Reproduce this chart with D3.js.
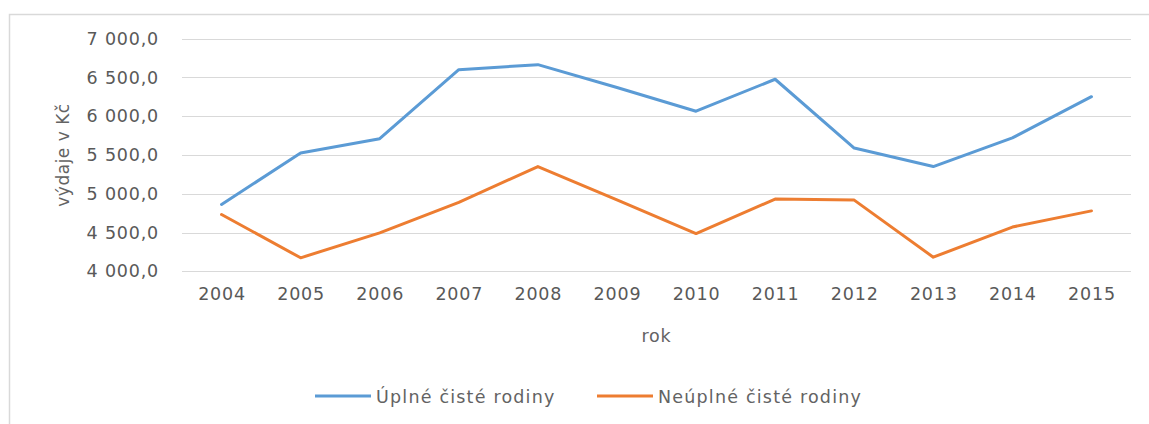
<!DOCTYPE html>
<html><head><meta charset="utf-8">
<script src="https://cdn.jsdelivr.net/npm/d3@7"></script>
<style>
body{margin:0;background:#fff;}
text{font-family:"DejaVu Sans",sans-serif;fill:#595959;}
</style></head>
<body><svg id="c" width="1149" height="424"></svg>
<script>
const years = ["2004","2005","2006","2007","2008","2009","2010","2011","2012","2013","2014","2015"];
const uplne = [4862,5525,5710,6600,6665,6370,6065,6477,5590,5351,5720,6252];
const neuplne = [4732,4174,4495,4890,5351,4922,4486,4931,4918,4182,4571,4779];
const seriesNames = ["Úplné čisté rodiny","Neúplné čisté rodiny"];
const yTicks = [4000,4500,5000,5500,6000,6500,7000];
const yTitle = "výdaje v Kč";
const xTitle = "rok";

const svg = d3.select("#c");
const m = {left:182, right:1131, top:38.7, bottom:271.3};
const colors = ["#5b9bd5","#ed7d31"];

// chart border
svg.append("rect").attr("x",9.5).attr("y",14.5).attr("width",1300).attr("height",600)
  .attr("fill","#fff").attr("stroke","#d9d9d9").attr("stroke-width",1.5);

const x = d3.scalePoint().domain(years).range([m.left,m.right]).padding(0.5);
const y = d3.scaleLinear().domain([4000,7000]).range([m.bottom,m.top]);

const loc = d3.formatLocale({decimal:",",thousands:"\u00a0",grouping:[3]});
const fmt = loc.format(",.1f");

// gridlines
svg.append("g").selectAll("line").data(yTicks).join("line")
  .attr("x1",m.left).attr("x2",m.right)
  .attr("y1",d=>Math.round(y(d))+0.5).attr("y2",d=>Math.round(y(d))+0.5)
  .attr("stroke","#d9d9d9").attr("stroke-width",1);

// y axis
const ya = svg.append("g").attr("transform",`translate(${m.left},0)`)
  .call(d3.axisLeft(y).tickValues(yTicks).tickFormat(fmt).tickSize(0).tickPadding(23));
ya.select(".domain").remove();
ya.selectAll("text").style("font-family","DejaVu Sans").style("font-size","17.5px")
  .style("letter-spacing","0.8px").attr("fill","#636363");

// x axis
const xa = svg.append("g").attr("transform",`translate(0,${m.bottom})`)
  .call(d3.axisBottom(x).tickSize(0).tickPadding(16));
xa.select(".domain").remove();
xa.selectAll("text").style("font-family","DejaVu Sans").style("font-size","17.5px")
  .style("letter-spacing","0.8px").attr("fill","#636363");

// titles
svg.append("text").attr("x",(m.left+m.right)/2).attr("y",342).attr("text-anchor","middle")
  .style("font-size","17.5px").style("letter-spacing","0.8px").style("fill","#636363").text(xTitle);
svg.append("text").attr("transform",`translate(69,155) rotate(-90)`).attr("text-anchor","middle")
  .style("font-size","17px").style("letter-spacing","0.5px").style("fill","#636363").text(yTitle);

// lines
const line = d3.line().x((d,i)=>x(years[i])).y(d=>y(d));
[uplne,neuplne].forEach((s,k)=>{
  svg.append("path").datum(s).attr("d",line).attr("fill","none")
    .attr("stroke",colors[k]).attr("stroke-width",3).attr("stroke-linejoin","round").attr("stroke-linecap","round");
});

// legend
const legX = [315,597];
seriesNames.forEach((n,k)=>{
  const g = svg.append("g").attr("transform",`translate(${legX[k]},396)`);
  g.append("line").attr("x1",0).attr("x2",56).attr("y1",0).attr("y2",0)
    .attr("stroke",colors[k]).attr("stroke-width",3);
  g.append("text").attr("x",61).attr("y",7).style("font-size","17.5px")
    .style("letter-spacing","1.2px").style("fill","#636363").text(n);
});
</script></body></html>
